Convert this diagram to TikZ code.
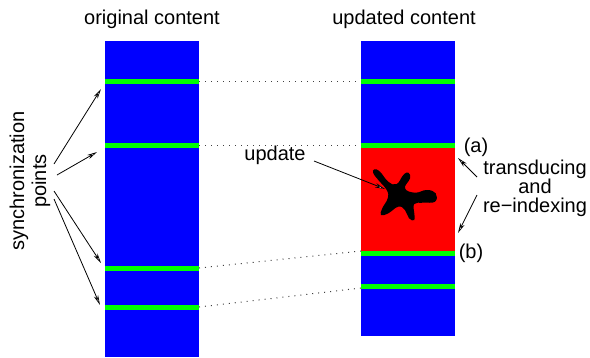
\documentclass[tikz,border=0pt]{standalone}
\usepackage{fontspec}
\setmainfont{Liberation Sans}
\usetikzlibrary{arrows.meta}
\definecolor{barblue}{RGB}{0,0,255}
\definecolor{syncgreen}{RGB}{0,255,0}
\definecolor{updred}{RGB}{255,0,0}
\begin{document}
\begin{tikzpicture}[x=1pt,y=-1pt,
  lbl/.style={font=\fontsize{20}{22}\selectfont, inner sep=0pt},
  ptr/.style={line width=0.8pt, -{Stealth[open, length=10pt, width=4.5pt, inset=3pt, fill=white, line width=0.7pt]}},
  dotl/.style={line width=1pt, black!75, dash pattern=on 1pt off 5pt},
  stripe/.style={fill=syncgreen}
]
\useasboundingbox (0,0) rectangle (590,357);
% bars
\fill[barblue] (105,41) rectangle (199,357);
\fill[barblue] (361,41) rectangle (455,336);
\fill[updred] (361,148) rectangle (455,251);
% stripes left
\fill[stripe] (105,79) rectangle (199,84);
\fill[stripe] (105,143) rectangle (199,148);
\fill[stripe] (105,266) rectangle (199,271);
\fill[stripe] (105,305) rectangle (199,310);
% stripes right
\fill[stripe] (361,79) rectangle (455,84);
\fill[stripe] (361,143) rectangle (455,148);
\fill[stripe] (361,251) rectangle (455,256);
\fill[stripe] (361,284) rectangle (455,289);
% blob
\fill[black] plot[smooth cycle, tension=0.75] coordinates {
 (374.3,169.3) (380,171.7) (388.3,181.7) (396.7,184) (403.3,175) (408.3,172.7)
 (410,178.3) (405,188.3) (415,192.7) (426.7,190) (435.7,193.3) (435,201.7)
 (423.3,202.7) (414.3,204) (414.3,213.3) (414.3,220) (409,218.3) (405,210)
 (398.3,206.7) (388.3,213.3) (381,215) (382.3,208.3) (387.7,198.3) (386.7,190)
 (378.3,180) (373.3,173.3)};
% dotted connections
\coordinate (l1) at (199,81);  \coordinate (r1) at (361,81);
\coordinate (l2) at (199,145); \coordinate (r2) at (361,145);
\coordinate (l3) at (199,268); \coordinate (r3) at (361,251);
\coordinate (l4) at (199,307); \coordinate (r4) at (361,288);
\draw[dotl] (l1) -- (r1);
\draw[dotl] (l2) -- (r2);
\draw[dotl] (l3) -- (r3);
\draw[dotl] (l4) -- (r4);
% titles
\node[lbl, anchor=base] (orig) at (152,24) {original content};
\node[lbl, anchor=base] (upd) at (404,24) {updated content};
% sync label
\node[lbl, rotate=90, align=center] (sync) at (30,181) {synchronization\\points};
\coordinate (s1) at (54,164);  \coordinate (t1) at (101,89);
\coordinate (s2) at (57,175);  \coordinate (t2) at (97,152);
\coordinate (s3) at (54,191);  \coordinate (t3) at (101,263);
\coordinate (s4) at (54,199);  \coordinate (t4) at (100,305);
\draw[ptr] (s1) -- (t1);
\draw[ptr] (s2) -- (t2);
\draw[ptr] (s3) -- (t3);
\draw[ptr] (s4) -- (t4);
% update label
\node[lbl, anchor=base] (updlbl) at (275,160) {update};
\coordinate (us) at (314,161); \coordinate (ut) at (385,189);
\draw[ptr] (us) -- (ut);
% right labels
\node[lbl, anchor=base] (a) at (476,152) {(a)};
\node[lbl, anchor=base] (b) at (471,258) {(b)};
\node[lbl, align=center, font=\fontsize{20}{18.5}\selectfont] (td) at (535,188) {transducing\\and\\re−indexing};
\coordinate (ra) at (477,177); \coordinate (rat) at (458,158);
\coordinate (rb) at (477,195); \coordinate (rbt) at (458,233);
\draw[ptr] (ra) -- (rat);
\draw[ptr] (rb) -- (rbt);
\end{tikzpicture}
\end{document}
